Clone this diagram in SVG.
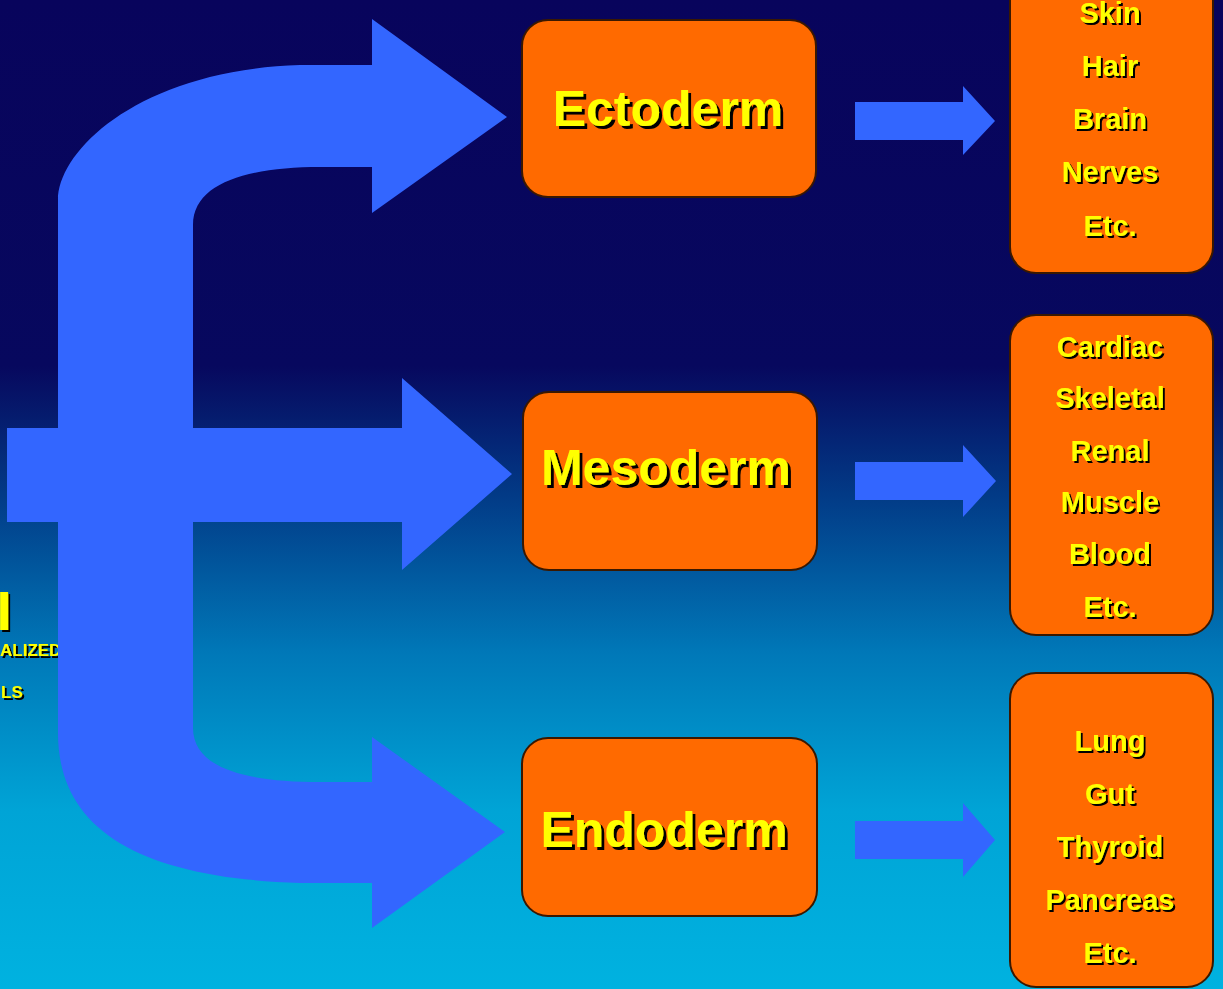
<svg xmlns="http://www.w3.org/2000/svg" width="1223" height="989" viewBox="0 0 1223 989">
<defs>
<linearGradient id="bg" x1="0" y1="0" x2="0" y2="989" gradientUnits="userSpaceOnUse">
<stop offset="0" stop-color="#08045c"/>
<stop offset="0.37" stop-color="#07085e"/>
<stop offset="0.5" stop-color="#023a86"/>
<stop offset="0.66" stop-color="#0078b8"/>
<stop offset="0.82" stop-color="#00a4d6"/>
<stop offset="1" stop-color="#00b2e0"/>
</linearGradient>
<filter id="sh" x="-10%" y="-20%" width="130%" height="150%">
<feDropShadow dx="3" dy="3" stdDeviation="0" flood-color="#000" flood-opacity="1"/>
</filter>
<filter id="sh2" x="-10%" y="-20%" width="130%" height="150%">
<feDropShadow dx="2" dy="2" stdDeviation="0" flood-color="#000" flood-opacity="1"/>
</filter>
</defs>
<style>
.box{fill:#ff6a00;stroke:#3a1800;stroke-width:2}
.arrow{fill:#3366ff}
.big{font-family:"Liberation Sans",Arial,sans-serif;font-weight:bold;font-size:50px;fill:#ffff00;text-anchor:middle;filter:url(#sh)}
.list{font-family:"Liberation Sans",Arial,sans-serif;font-weight:bold;font-size:29px;fill:#ffff00;text-anchor:middle;filter:url(#sh2)}
.side{font-family:"Liberation Sans",Arial,sans-serif;font-weight:bold;fill:#ffff00;filter:url(#sh2)}
</style>
<rect x="0" y="0" width="1223" height="989" fill="url(#bg)"/>
<g id="left-text">
<text class="side" x="-3.5" y="630" font-size="55">I</text>
<text class="side" x="0" y="656" font-size="17">ALIZED</text>
<text class="side" x="1" y="698" font-size="17">LS</text>
</g>
<g id="connectors">
<path class="arrow" d="M372,65 L372,19 L507,117 L372,213 L372,167 L320,167 C250,167 193,182 193,225 L193,728 C193,768 245,782 320,782 L372,782 L372,737 L505,832 L372,928 L372,883 L300,883 C140,878 58,830 58,733 L58,200 C58,150 140,70 300,65 Z"/>
<path class="arrow" d="M7,428 L402,428 L402,378 L512,474 L402,570 L402,522 L7,522 Z"/>
<path class="arrow" d="M855,102 L963,102 L963,86 L995,121 L963,155 L963,140 L855,140 Z"/>
<path class="arrow" d="M855,462 L963,462 L963,445 L996,481 L963,517 L963,500 L855,500 Z"/>
<path class="arrow" d="M855,821 L963,821 L963,803 L995,840 L963,877 L963,859 L855,859 Z"/>
</g>
<g id="ectoderm">
<rect class="box" x="522" y="20" width="294" height="177" rx="26"/>
<text class="big" x="668" y="126">Ectoderm</text>
</g>
<g id="mesoderm">
<rect class="box" x="523" y="392" width="294" height="178" rx="26"/>
<text class="big" x="666" y="485">Mesoderm</text>
</g>
<g id="endoderm">
<rect class="box" x="522" y="738" width="295" height="178" rx="26"/>
<text class="big" x="664" y="847">Endoderm</text>
</g>
<g id="ecto-list">
<rect class="box" x="1010" y="-40" width="203" height="313" rx="26"/>
<text class="list" x="1110" y="23">Skin</text>
<text class="list" x="1110" y="76">Hair</text>
<text class="list" x="1110" y="129">Brain</text>
<text class="list" x="1110" y="182">Nerves</text>
<text class="list" x="1110" y="236">Etc.</text>
</g>
<g id="meso-list">
<rect class="box" x="1010" y="315" width="203" height="320" rx="26"/>
<text class="list" x="1110" y="357">Cardiac</text>
<text class="list" x="1110" y="408">Skeletal</text>
<text class="list" x="1110" y="461">Renal</text>
<text class="list" x="1110" y="512">Muscle</text>
<text class="list" x="1110" y="564">Blood</text>
<text class="list" x="1110" y="617">Etc.</text>
</g>
<g id="endo-list">
<rect class="box" x="1010" y="673" width="203" height="314" rx="26"/>
<text class="list" x="1110" y="751">Lung</text>
<text class="list" x="1110" y="804">Gut</text>
<text class="list" x="1110" y="857">Thyroid</text>
<text class="list" x="1110" y="910">Pancreas</text>
<text class="list" x="1110" y="963">Etc.</text>
</g>
</svg>
